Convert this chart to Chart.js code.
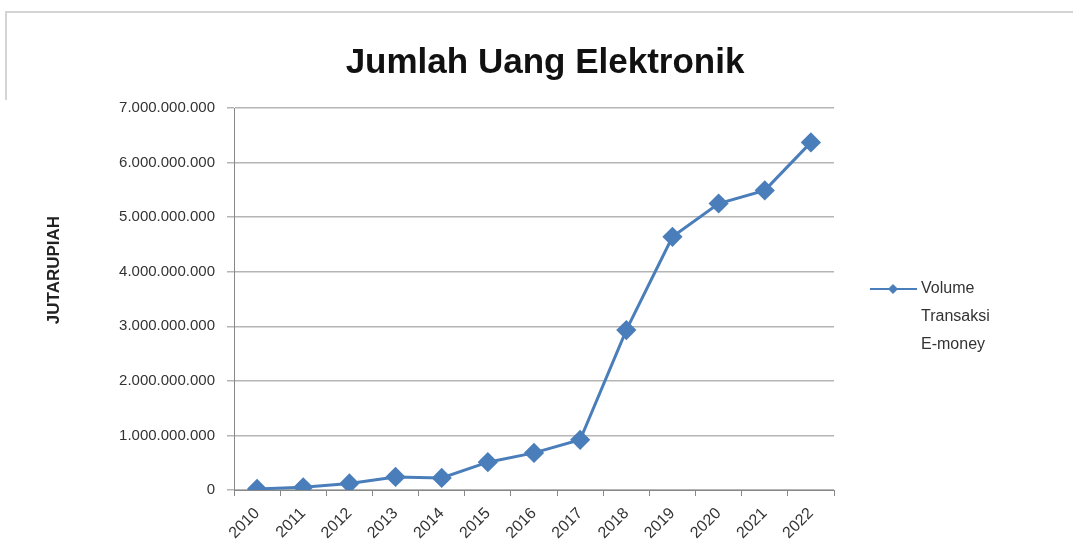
<!DOCTYPE html>
<html>
<head>
<meta charset="utf-8">
<script src="https://cdn.jsdelivr.net/npm/chart.js@4.4.0/dist/chart.umd.min.js"></script>
<style>
html,body{margin:0;padding:0;background:#fff;}
#wrap{position:relative;width:1073px;height:555px;}
</style>
</head>
<body>
<div id="wrap"><canvas id="c" width="1073" height="555"></canvas></div>
<script>
const chartTitle = "Jumlah Uang Elektronik";
const yAxisTitle = "JUTARUPIAH";
const categories = ["2010","2011","2012","2013","2014","2015","2016","2017","2018","2019","2020","2021","2022"];
const seriesName = ["Volume", "Transaksi", "E-money"];
const volumeValues = [20000000, 50000000, 120000000, 240000000, 220000000, 510000000, 680000000, 920000000, 2930000000, 4640000000, 5250000000, 5490000000, 6370000000];
const yMax = 7000000000;
const yStep = 1000000000;

const BLUE = "#4a7ebb";
const FONT = "'Liberation Sans', Arial, sans-serif";

function fmtID(v){
  return String(Math.round(v)).replace(/\B(?=(\d{3})+(?!\d))/g, ".");
}

const decor = {
  id: "decor",
  beforeDraw(chart){
    const ctx = chart.ctx;
    ctx.save();
    ctx.fillStyle = "#fff";
    ctx.fillRect(0,0,chart.width,chart.height);
    ctx.strokeStyle = "#d4d4d4";
    ctx.lineWidth = 2;
    ctx.beginPath();
    ctx.moveTo(6,100); ctx.lineTo(6,12); ctx.lineTo(1073,12);
    ctx.stroke();
    ctx.restore();
  },
  afterDraw(chart){
    const ctx = chart.ctx;
    ctx.save();
    // title
    ctx.fillStyle = "#111";
    ctx.font = "bold 35px " + FONT;
    ctx.textAlign = "center";
    ctx.textBaseline = "middle";
    ctx.fillText(chartTitle, 545, 63);
    // y axis title
    ctx.save();
    ctx.translate(54, 270);
    ctx.rotate(-Math.PI/2);
    ctx.font = "bold 17px " + FONT;
    ctx.fillStyle = "#222";
    ctx.fillText(yAxisTitle, 0, 0);
    ctx.restore();
    // legend
    const ly = 289;
    ctx.strokeStyle = BLUE;
    ctx.lineWidth = 2;
    ctx.beginPath(); ctx.moveTo(870, ly); ctx.lineTo(917, ly); ctx.stroke();
    ctx.fillStyle = BLUE;
    ctx.beginPath();
    ctx.moveTo(893, ly-5); ctx.lineTo(898, ly); ctx.lineTo(893, ly+5); ctx.lineTo(888, ly);
    ctx.closePath(); ctx.fill();
    ctx.fillStyle = "#333";
    ctx.font = "16px " + FONT;
    ctx.textAlign = "left";
    ctx.textBaseline = "middle";
    seriesName.forEach((t,i)=> ctx.fillText(t, 921, ly + i*28));
    ctx.restore();
  }
};

new Chart(document.getElementById("c"), {
  type: "line",
  data: {
    labels: categories,
    datasets: [{
      label: seriesName.join(" "),
      data: volumeValues,
      borderColor: BLUE,
      backgroundColor: BLUE,
      borderWidth: 3,
      pointStyle: "rectRot",
      pointRadius: 8,
      pointBackgroundColor: BLUE,
      pointBorderColor: BLUE,
      tension: 0,
      fill: false
    }]
  },
  options: {
    responsive: false,
    animation: false,
    devicePixelRatio: 1,
    layout: { padding: { left: 0, right: 239, top: 108, bottom: 0 } },
    plugins: { legend: { display: false }, title: { display: false }, tooltip: { enabled: false } },
    scales: {
      x: {
        offset: true,
        grid: { display: true, offset: true, drawOnChartArea: false, drawTicks: true, tickLength: 6, color: "#888" },
        border: { color: "#888", width: 1 },
        ticks: { minRotation: 45, maxRotation: 45, color: "#333", font: { size: 16, family: FONT }, padding: 8 },
        afterFit(s){ s.height = 65; }
      },
      y: {
        min: 0, max: yMax,
        grid: { color: "#b5b5b5", lineWidth: 1.5, tickLength: 7, drawTicks: true },
        border: { color: "#888", width: 1 },
        ticks: { stepSize: yStep, color: "#333", padding: 12, font: { size: 15, family: FONT }, callback: v => fmtID(v) },
        afterFit(s){ s.width = 234; }
      }
    }
  },
  plugins: [decor]
});
</script>
</body>
</html>
